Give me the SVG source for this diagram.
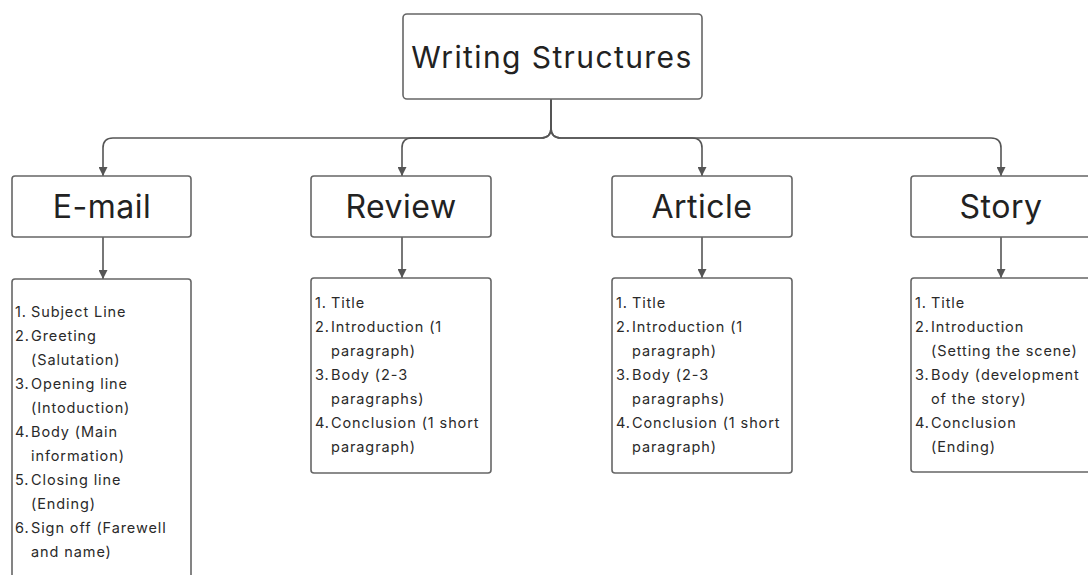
<svg xmlns="http://www.w3.org/2000/svg" width="1088" height="575" viewBox="0 0 1088 575">
<defs>
<marker id="ah" viewBox="0 0 10 10" refX="10" refY="5" markerWidth="9" markerHeight="9" markerUnits="userSpaceOnUse" orient="auto">
<path d="M0,0 L10,5 L0,10 Z" fill="#555"/>
</marker>
<style>
.box{fill:#fff;stroke:#666;stroke-width:1.6}
.conn{fill:none;stroke:#555;stroke-width:1.6}
.title{font-family:Inter,"Liberation Sans",sans-serif;font-size:30px;letter-spacing:1.4px;fill:#222;text-anchor:middle}
.lbl{font-family:Inter,"Liberation Sans",sans-serif;font-size:32px;letter-spacing:0.5px;fill:#222;text-anchor:middle}
.li{font-family:Inter,"Liberation Sans",sans-serif;font-size:14.5px;letter-spacing:0.9px;fill:#2a2a2a}
</style>
</defs>
<rect width="1088" height="575" fill="#fff"/>
<g id="connectors">
<path class="conn" d="M551,99 V128 Q551,138 541,138 H113 Q103,138 103,148 V176" marker-end="url(#ah)"/>
<path class="conn" d="M551,99 V128 Q551,138 541,138 H412 Q402,138 402,148 V176" marker-end="url(#ah)"/>
<path class="conn" d="M551,99 V128 Q551,138 561,138 H692 Q702,138 702,148 V176" marker-end="url(#ah)"/>
<path class="conn" d="M551,99 V128 Q551,138 561,138 H991 Q1001,138 1001,148 V176" marker-end="url(#ah)"/>
<path class="conn" d="M103,237 V279" marker-end="url(#ah)"/>
<path class="conn" d="M402,237 V278" marker-end="url(#ah)"/>
<path class="conn" d="M702,237 V278" marker-end="url(#ah)"/>
<path class="conn" d="M1001,237 V278" marker-end="url(#ah)"/>
</g>
<g id="root">
<rect class="box" x="403" y="14" width="299" height="85" rx="4"/>
<text class="title" x="552" y="68">Writing Structures</text>
</g>
<g id="email">
<rect class="box" x="12" y="176" width="179" height="61" rx="3"/>
<text class="lbl" x="102" y="218">E-mail</text>
</g>
<g id="review">
<rect class="box" x="311" y="176" width="180" height="61" rx="3"/>
<text class="lbl" x="401" y="218">Review</text>
</g>
<g id="article">
<rect class="box" x="612" y="176" width="180" height="61" rx="3"/>
<text class="lbl" x="702" y="218">Article</text>
</g>
<g id="story">
<rect class="box" x="911" y="176" width="180" height="61" rx="3"/>
<text class="lbl" x="1001" y="218">Story</text>
</g>
<g id="email-list">
<rect class="box" x="12" y="279" width="179" height="320" rx="3"/>
<text class="li">
<tspan x="15" y="317">1.</tspan><tspan x="31" y="317">Subject Line</tspan>
<tspan x="15" y="341">2.</tspan><tspan x="31" y="341">Greeting</tspan>
<tspan x="31" y="365">(Salutation)</tspan>
<tspan x="15" y="389">3.</tspan><tspan x="31" y="389">Opening line</tspan>
<tspan x="31" y="413">(Intoduction)</tspan>
<tspan x="15" y="437">4.</tspan><tspan x="31" y="437">Body (Main</tspan>
<tspan x="31" y="461">information)</tspan>
<tspan x="15" y="485">5.</tspan><tspan x="31" y="485">Closing line</tspan>
<tspan x="31" y="509">(Ending)</tspan>
<tspan x="15" y="533">6.</tspan><tspan x="31" y="533">Sign off (Farewell</tspan>
<tspan x="31" y="557">and name)</tspan>
</text>
</g>
<g id="review-list">
<rect class="box" x="311" y="278" width="180" height="195" rx="3"/>
<text class="li">
<tspan x="315" y="308">1.</tspan><tspan x="331" y="308">Title</tspan>
<tspan x="315" y="332">2.</tspan><tspan x="331" y="332">Introduction (1</tspan>
<tspan x="331" y="356">paragraph)</tspan>
<tspan x="315" y="380">3.</tspan><tspan x="331" y="380">Body (2-3</tspan>
<tspan x="331" y="404">paragraphs)</tspan>
<tspan x="315" y="428">4.</tspan><tspan x="331" y="428">Conclusion (1 short</tspan>
<tspan x="331" y="452">paragraph)</tspan>
</text>
</g>
<g id="article-list">
<rect class="box" x="612" y="278" width="180" height="195" rx="3"/>
<text class="li">
<tspan x="616" y="308">1.</tspan><tspan x="632" y="308">Title</tspan>
<tspan x="616" y="332">2.</tspan><tspan x="632" y="332">Introduction (1</tspan>
<tspan x="632" y="356">paragraph)</tspan>
<tspan x="616" y="380">3.</tspan><tspan x="632" y="380">Body (2-3</tspan>
<tspan x="632" y="404">paragraphs)</tspan>
<tspan x="616" y="428">4.</tspan><tspan x="632" y="428">Conclusion (1 short</tspan>
<tspan x="632" y="452">paragraph)</tspan>
</text>
</g>
<g id="story-list">
<rect class="box" x="911" y="278" width="180" height="194" rx="3"/>
<text class="li">
<tspan x="915" y="308">1.</tspan><tspan x="931" y="308">Title</tspan>
<tspan x="915" y="332">2.</tspan><tspan x="931" y="332">Introduction</tspan>
<tspan x="931" y="356">(Setting the scene)</tspan>
<tspan x="915" y="380">3.</tspan><tspan x="931" y="380">Body (development</tspan>
<tspan x="931" y="404">of the story)</tspan>
<tspan x="915" y="428">4.</tspan><tspan x="931" y="428">Conclusion</tspan>
<tspan x="931" y="452">(Ending)</tspan>
</text>
</g>
</svg>
